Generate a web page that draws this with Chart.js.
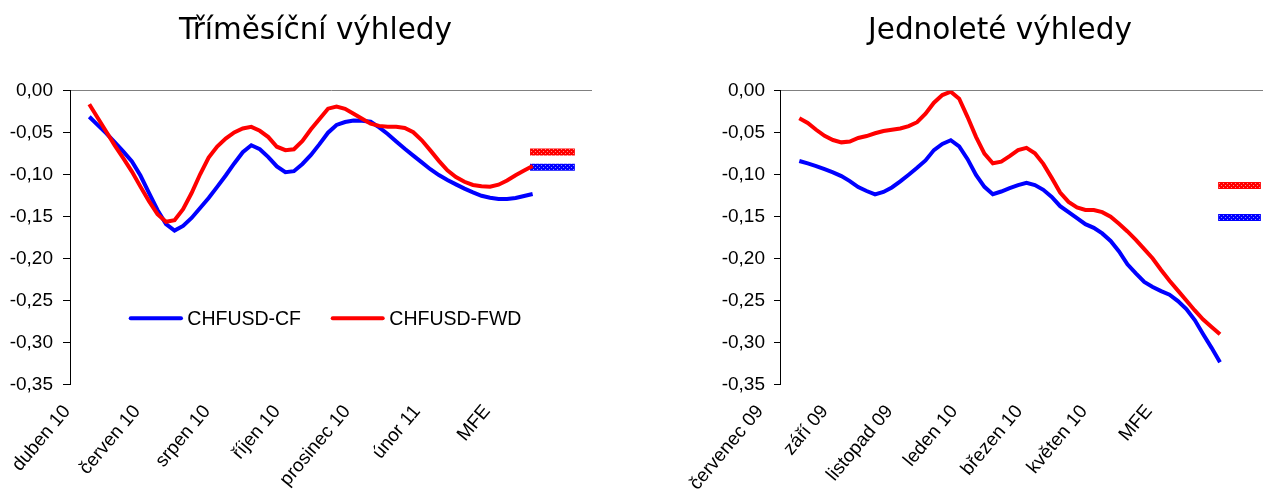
<!DOCTYPE html>
<html><head><meta charset="utf-8">
<script src="https://cdn.jsdelivr.net/npm/chart.js@4.4.1/dist/chart.umd.min.js"></script>
<style>
html,body{margin:0;padding:0;background:#fff;overflow:hidden;width:1263px;height:502px;}
#w1{position:absolute;left:0;top:0;width:631px;height:502px;}
#w2{position:absolute;left:640px;top:0;width:720px;height:502px;}
</style></head><body>
<div id="w1"><canvas id="c1"></canvas></div>
<div id="w2"><canvas id="c2"></canvas></div>
<script>
// ---------- DATA ----------
const leftTitle = 'Tříměsíční výhledy';
const rightTitle = 'Jednoleté výhledy';
const seriesNames = ['CHFUSD-CF', 'CHFUSD-FWD'];
const leftTickLabels = ['duben 10','červen 10','srpen 10','říjen 10','prosinec 10','únor 11','MFE'];
const rightTickLabels = ['červenec 09','září 09','listopad 09','leden 10','březen 10','květen 10','MFE'];

const leftCF = [-0.031,-0.041,-0.0507,-0.0616,-0.0726,-0.0842,-0.101,-0.1216,-0.142,-0.1588,-0.1665,-0.161,-0.1515,-0.1397,-0.1278,-0.1145,-0.1009,-0.0866,-0.0732,-0.065,-0.0697,-0.079,-0.0902,-0.0971,-0.0958,-0.0872,-0.0765,-0.0636,-0.050,-0.0408,-0.0373,-0.0355,-0.0357,-0.037,-0.0437,-0.0515,-0.0605,-0.0692,-0.0773,-0.0854,-0.0935,-0.1004,-0.1062,-0.1115,-0.1166,-0.121,-0.1251,-0.1275,-0.129,-0.129,-0.1278,-0.1253,-0.123];
const leftFWD = [-0.0162,-0.0325,-0.0488,-0.0653,-0.0805,-0.0963,-0.1142,-0.1314,-0.147,-0.156,-0.1542,-0.141,-0.1218,-0.0995,-0.0796,-0.0665,-0.057,-0.0496,-0.045,-0.043,-0.0477,-0.0552,-0.0667,-0.0708,-0.0697,-0.0598,-0.046,-0.0336,-0.0214,-0.019,-0.0215,-0.0275,-0.0335,-0.0393,-0.0419,-0.0429,-0.0429,-0.0444,-0.0494,-0.059,-0.071,-0.0835,-0.0948,-0.1027,-0.1084,-0.1122,-0.1138,-0.1143,-0.1119,-0.1069,-0.1006,-0.0951,-0.0895];
const leftMfeCF = -0.091;
const leftMfeFWD = -0.073;

const rightCF = [-0.0837,-0.0866,-0.0897,-0.0935,-0.0972,-0.1017,-0.1076,-0.1148,-0.1194,-0.1234,-0.1205,-0.1152,-0.108,-0.100,-0.0918,-0.083,-0.0707,-0.0633,-0.059,-0.0664,-0.0815,-0.1003,-0.1145,-0.1232,-0.120,-0.1161,-0.1125,-0.1096,-0.1124,-0.118,-0.1264,-0.1375,-0.1447,-0.1517,-0.1589,-0.1632,-0.1699,-0.1789,-0.1913,-0.2066,-0.2174,-0.2277,-0.2336,-0.2386,-0.2428,-0.2505,-0.260,-0.273,-0.2899,-0.3061,-0.3233];
const rightFWD = [-0.0329,-0.0384,-0.0465,-0.0538,-0.0587,-0.0615,-0.0606,-0.0563,-0.054,-0.0507,-0.048,-0.0464,-0.045,-0.0421,-0.0375,-0.0274,-0.0143,-0.0052,-0.0012,-0.0096,-0.0314,-0.0549,-0.0749,-0.0864,-0.0845,-0.0779,-0.0708,-0.068,-0.0744,-0.0871,-0.1038,-0.1212,-0.1324,-0.139,-0.142,-0.142,-0.1446,-0.150,-0.1585,-0.1675,-0.1775,-0.1886,-0.1998,-0.2135,-0.2262,-0.238,-0.2497,-0.2616,-0.2724,-0.2812,-0.290];
const rightMfeCF = -0.151;
const rightMfeFWD = -0.113;

// ---------- LAYOUT / STYLE (x in months since first labelled month) ----------
const leftLayout  = {xMin:0.086, xMax:15.0,  start:0.637, step:0.2436, mfeFrom:13.23, mfeTo:14.51, yWidth:70,  padRight:39, tickLen:7, tickPad:10};
const rightLayout = {xMin:0.617, xMax:15.525, start:1.213, step:0.2597, mfeFrom:14.14, mfeTo:15.46, yWidth:140, padRight:97, tickLen:6, tickPad:9};

const ARIAL = '"Liberation Sans", Arial, sans-serif';
const BLUE = '#0000FF', RED = '#FF0000';

function toPoints(values, start, step) {
  return values.map((v, i) => ({x: start + i * step, y: v}));
}
function fmt(v) {
  if (Math.abs(v) < 1e-9) return '0,00';
  return v.toFixed(2).replace('.', ',');
}
function pattern(color) {
  const c = document.createElement('canvas');
  c.width = 4; c.height = 4;
  const g = c.getContext('2d');
  g.fillStyle = color; g.fillRect(0, 0, 4, 4);
  g.fillStyle = 'rgba(255,255,255,0.55)';
  g.fillRect(1, 1, 1, 1); g.fillRect(3, 3, 1, 1);
  return g.createPattern(c, 'repeat');
}

const legendPlugin = {
  id: 'insideLegend',
  afterDatasetsDraw(chart) {
    const {ctx, chartArea: a} = chart;
    const y = a.top + 227.6;
    const items = [
      {color: BLUE, text: seriesNames[0], x0: 60.7, x1: 111, tx: 117.3},
      {color: RED,  text: seriesNames[1], x0: 262.7, x1: 312.7, tx: 319.3}
    ];
    ctx.save();
    ctx.lineWidth = 4; ctx.lineCap = 'round';
    ctx.font = '19.5px ' + ARIAL;
    ctx.textBaseline = 'middle'; ctx.textAlign = 'left';
    items.forEach(it => {
      ctx.strokeStyle = it.color;
      ctx.beginPath(); ctx.moveTo(a.left + it.x0, y); ctx.lineTo(a.left + it.x1, y); ctx.stroke();
      ctx.fillStyle = '#000';
      ctx.fillText(it.text, a.left + it.tx, y + 1);
    });
    ctx.restore();
  }
};

function build(id, title, labels, cf, fwd, mfeCF, mfeFWD, L, withLegend) {
  new Chart(document.getElementById(id), {
    type: 'line',
    data: {
      datasets: [
        {label: seriesNames[1], data: toPoints(fwd, L.start, L.step), borderColor: RED, borderWidth: 4, pointRadius: 0, tension: 0, order: 0},
        {label: seriesNames[0], data: toPoints(cf, L.start, L.step), borderColor: BLUE, borderWidth: 4, pointRadius: 0, tension: 0, order: 1},
        {label: 'MFE ' + seriesNames[1], data: [{x: L.mfeFrom, y: mfeFWD}, {x: L.mfeTo, y: mfeFWD}], borderColor: pattern(RED), borderWidth: 7, borderCapStyle: 'butt', pointRadius: 0, order: 2},
        {label: 'MFE ' + seriesNames[0], data: [{x: L.mfeFrom, y: mfeCF}, {x: L.mfeTo, y: mfeCF}], borderColor: pattern(BLUE), borderWidth: 7, borderCapStyle: 'butt', pointRadius: 0, order: 2}
      ]
    },
    options: {
      responsive: true, maintainAspectRatio: false, animation: false,
      layout: {padding: 0},
      plugins: {
        legend: {display: false},
        tooltip: {enabled: false},
        title: {display: true, text: title, color: '#000',
          font: {family: '"DejaVu Sans", Verdana, sans-serif', size: 29.5, weight: 'normal'},
          padding: {top: 14, bottom: 41.3}}
      },
      scales: {
        x: {
          type: 'linear', min: L.xMin, max: L.xMax,
          afterBuildTicks: s => { s.ticks = labels.map((t, i) => ({value: i * 2})); },
          ticks: {autoSkip: false, minRotation: 50, maxRotation: 50, padding: 16, color: '#000',
            font: {family: ARIAL, size: 19}, callback: (v, i) => labels[i]},
          grid: {display: false, drawTicks: false},
          border: {display: false},
          afterFit: s => { s.height = 117.3; s.paddingLeft = 0; s.paddingRight = L.padRight; }
        },
        y: {
          min: -0.35, max: 0,
          ticks: {stepSize: 0.05, color: '#000', padding: L.tickPad, font: {family: ARIAL, size: 19}, callback: v => fmt(v)},
          grid: {color: c => (c.tick && Math.abs(c.tick.value) < 1e-9) ? '#808080' : 'rgba(0,0,0,0)',
            tickColor: '#000', tickLength: L.tickLen, drawTicks: true, lineWidth: 1},
          border: {color: '#000', width: 1},
          afterFit: s => { s.width = L.yWidth; }
        }
      }
    },
    plugins: withLegend ? [legendPlugin] : []
  });
}

build('c1', leftTitle, leftTickLabels, leftCF, leftFWD, leftMfeCF, leftMfeFWD, leftLayout, true);
build('c2', rightTitle, rightTickLabels, rightCF, rightFWD, rightMfeCF, rightMfeFWD, rightLayout, false);
</script>
</body></html>
